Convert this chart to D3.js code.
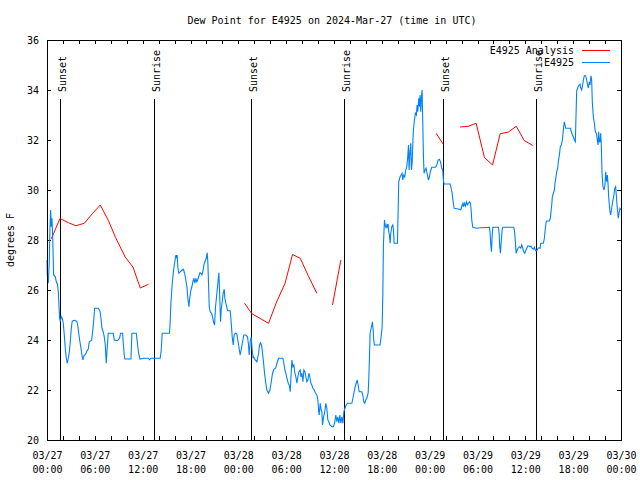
<!DOCTYPE html>
<html>
<head>
<meta charset="utf-8">
<script src="https://cdn.jsdelivr.net/npm/d3@7"></script>
<style>
  html, body { margin: 0; padding: 0; background: #ffffff; }
  svg { display: block; }
  text { font-family: "DejaVu Sans Mono", "Liberation Mono", monospace; font-size: 10px; fill: #000; }
</style>
</head>
<body>
<svg id="chart" width="640" height="480"></svg>
<script>
// ---------------- DATA ----------------
const chartTitle = "Dew Point for E4925 on 2024-Mar-27 (time in UTC)";
const yLabel = "degrees F";
const seriesNames = ["E4925 Analysis", "E4925"];
const startUTC = Date.UTC(2024, 2, 27, 0, 0);   // 03/27 00:00 UTC
const endUTC = Date.UTC(2024, 2, 30, 0, 0);     // 03/30 00:00 UTC
const yTicks = [20, 22, 24, 26, 28, 30, 32, 34, 36];

// Sun events (hours after start)
const sunsetHours = [1.63, 25.65, 49.72];
const sunriseHours = [13.41, 37.31, 61.38];

// Analysis series (hours after start, deg F); null = gap
const analysisHours = [0.54, 1.63, 2.7, 3.63, 4.68, 5.68, 6.68, 7.7, 8.6, 9.8, 10.78, 11.7, 12.74,
  null,
  24.78, 25.7, 27.79, 28.8, 29.86, 30.8, 31.76, 32.8, 33.85,
  null,
  35.81, 36.86,
  null,
  48.81, 49.72,
  null,
  51.82, 52.87, 53.83, 54.87, 55.89, 56.84, 57.88, 58.86, 59.86, 60.93];
const analysisValues = [28.05, 28.86, 28.69, 28.57, 28.67, 29.05, 29.4, 28.78, 28.1, 27.32, 26.92, 26.08, 26.23,
  null,
  25.47, 25.05, 24.67, 25.52, 26.27, 27.42, 27.27, 26.55, 25.87,
  null,
  25.4, 27.2,
  null,
  32.27, 31.82,
  null,
  32.52, 32.55, 32.67, 31.3, 31.0, 32.25, 32.32, 32.55, 31.98, 31.78];

// Station observations (hours after start, deg F)
const obsHours = [
  0.0, 0.04, 0.16, 0.29, 0.37, 0.46, 0.54, 0.62, 0.71, 0.83, 1.04, 1.17, 1.33, 1.42, 1.5, 1.58, 1.67, 1.79, 1.92,
  2.04, 2.17, 2.29, 2.42, 2.54, 2.67, 2.8, 2.92, 3.05, 3.17, 3.51, 3.76, 3.88, 4.01, 4.13, 4.26, 4.38, 4.51, 4.63,
  4.84, 5.01, 5.18, 5.3, 5.6, 5.72, 5.85, 5.97, 6.43, 6.64, 6.77, 6.89, 7.06, 7.18, 7.31, 7.43, 7.52, 7.68, 8.31,
  8.44, 8.85, 9.1, 9.23, 9.48, 9.57, 9.69, 9.77, 10.53, 10.65, 11.2, 11.32, 11.49, 11.66, 12.12, 12.7, 12.87, 13.04,
  14.2, 14.33, 14.45, 15.37, 15.46, 15.54, 15.71, 15.88, 16.0, 16.17, 16.25, 16.33, 16.42, 16.54, 16.71, 16.92,
  17.13, 17.25, 17.38, 17.55, 17.67, 17.8, 17.88, 18.05, 18.17, 18.3, 18.42, 18.55, 18.67, 18.8, 18.93, 19.05,
  19.18, 19.3, 19.43, 19.55, 19.68, 19.8, 19.97, 20.1, 20.18, 20.26, 20.35, 20.47, 20.64, 20.76, 20.89, 21.02,
  21.14, 21.31, 21.47, 21.56, 21.64, 21.77, 21.85, 21.98, 22.1, 22.23, 22.31, 22.44, 22.65, 22.98, 23.1, 23.23,
  23.36, 23.48, 23.61, 23.82, 23.9, 24.07, 24.23, 24.36, 24.53, 24.69, 24.94, 25.15, 25.28, 25.36, 25.49, 25.61,
  25.74, 25.86, 25.91, 26.12, 26.33, 26.54, 26.66, 26.79, 26.91, 27.04, 27.17, 27.29, 27.42, 27.58, 27.79, 27.96,
  28.13, 28.29, 28.46, 28.67, 28.84, 29.05, 29.59, 29.71, 29.84, 29.96, 30.09, 30.26, 30.38, 30.51, 30.63, 30.72,
  30.84, 30.97, 31.09, 31.22, 31.34, 31.47, 31.6, 31.76, 31.85, 31.97, 32.1, 32.22, 32.35, 32.47, 32.6, 32.72,
  32.85, 32.97, 33.1, 33.22, 33.35, 33.52, 33.68, 33.85, 33.98, 34.06, 34.14, 34.27, 34.39, 34.48, 34.56, 34.69,
  34.81, 34.98, 35.1, 35.23, 35.36, 35.48, 35.73, 35.94, 36.11, 36.23, 36.36, 36.48, 36.61, 36.73, 36.86, 36.99,
  37.11, 37.24, 37.36, 37.53, 37.7, 38.24, 38.37, 38.53, 38.66, 38.78, 38.91, 39.03, 39.16, 39.28, 39.49, 39.61,
  39.74, 39.86, 39.99, 40.11, 40.28, 40.36, 40.45, 40.53, 40.61, 40.74, 40.82, 40.91, 40.99, 41.07, 41.78, 41.91,
  42.04, 42.12, 42.2, 42.33, 42.41, 42.54, 42.62, 42.7, 42.79, 42.87, 42.95, 43.04, 43.12, 43.25, 43.37, 43.46,
  43.54, 43.96, 44.04, 44.12, 44.29, 44.42, 44.54, 44.63, 44.75, 44.88, 45.0, 45.13, 45.25, 45.34, 45.42, 45.5,
  45.63, 45.71, 45.8, 45.88, 45.96, 46.09, 46.21, 46.34, 46.42, 46.51, 46.63, 46.72, 46.8, 46.88, 46.97, 47.05,
  47.13, 47.22, 47.3, 47.43, 47.55, 47.63, 47.72, 47.84, 47.97, 48.09, 48.26, 48.72, 48.89, 49.06, 49.22, 49.35,
  49.52, 49.64, 49.72, 49.81, 50.57, 50.69, 50.82, 50.94, 51.07, 51.74, 51.9, 52.03, 52.16, 52.24, 52.36, 52.49,
  52.61, 52.74, 52.87, 52.99, 53.12, 53.2, 53.28, 53.41, 53.91, 54.33, 55.5, 55.58, 55.67, 55.75, 55.83, 55.92,
  56.63, 56.71, 56.79, 56.88, 56.96, 57.09, 57.17, 58.51, 58.59, 58.67, 58.76, 58.84, 58.97, 59.09, 59.26, 59.43,
  59.55, 59.68, 59.8, 59.93, 60.05, 60.18, 60.3, 60.47, 60.6, 60.72, 60.85, 61.01, 61.14, 61.27, 61.43, 61.6,
  61.72, 61.85, 61.93, 62.26, 62.39, 62.51, 62.64, 63.01, 63.14, 63.22, 63.31, 63.39, 63.52, 63.64, 63.72, 63.85,
  63.93, 64.06, 64.14, 64.27, 64.39, 64.52, 64.64, 64.73, 64.81, 64.89, 64.98, 65.06, 65.65, 65.77, 65.9, 66.02,
  66.15, 66.27, 66.36, 66.44, 66.57, 66.69, 66.86, 66.94, 67.07, 67.19, 67.28, 67.4, 67.57, 67.69, 67.82, 67.9,
  68.03, 68.11, 68.24, 68.32, 68.4, 68.53, 68.66, 68.78, 68.91, 69.03, 69.12, 69.2, 69.28, 69.37, 69.45, 69.53,
  69.62, 69.74, 69.87, 69.99, 70.08, 70.2, 70.29, 70.37, 70.45, 70.54, 70.62, 70.7, 70.83, 70.95, 71.08, 71.2,
  71.33, 71.41, 71.5, 71.58, 71.66, 71.75, 71.87, 72.0];
const obsValues = [
  27.2, 26.6, 26.27, 27.13, 28.47, 29.2, 28.53, 28.87, 28.2, 26.6, 26.53, 26.33, 26.2, 25.93, 25.4, 24.87, 24.73, 24.93, 24.87,
  24.67, 24.2, 23.67, 23.27, 23.07, 23.27, 23.53, 23.93, 24.47, 24.76, 24.79, 24.73, 24.53, 24.2, 23.93, 23.67, 23.4, 23.2, 23.37,
  23.43, 23.56, 23.64, 23.93, 23.99, 24.33, 24.73, 25.27, 25.27, 25.16, 24.87, 24.47, 24.31, 24.13, 23.8, 23.07, 23.53, 24.27, 24.27,
  24.0, 23.97, 24.07, 24.27, 24.27, 23.87, 23.4, 23.24, 23.24, 24.27, 24.27, 23.93, 23.47, 23.24, 23.27, 23.27, 23.21, 23.27,
  23.27, 23.6, 24.27, 24.27, 24.8, 25.47, 26.27, 26.8, 27.07, 27.4, 27.27, 27.4, 26.87, 26.67, 26.73, 26.8,
  26.83, 26.67, 26.47, 26.13, 25.67, 25.33, 25.6, 26.0, 26.13, 26.33, 26.47, 26.27, 26.47, 26.33, 26.43, 26.56,
  26.69, 26.67, 26.6, 26.73, 27.0, 27.13, 27.27, 27.49, 27.07, 26.27, 25.33, 25.13, 25.07, 24.93, 24.73, 24.6,
  25.33, 25.87, 26.4, 26.69, 26.0, 24.73, 25.2, 25.53, 25.87, 26.03, 25.67, 25.47, 25.17, 25.17, 24.73, 24.13,
  23.8, 24.2, 24.27, 24.24, 24.07, 23.73, 23.4, 23.6, 23.93, 24.2, 24.2, 24.13, 23.8, 23.4, 23.93, 24.13,
  23.6, 23.27, 23.33, 23.2, 23.13, 23.47, 23.8, 23.89, 23.8, 23.47, 23.07, 22.67, 22.33, 22.0, 21.87, 22.0,
  22.33, 22.67, 22.83, 22.87, 23.07, 23.27, 23.27, 23.07, 22.8, 22.67, 22.47, 22.27, 22.2, 21.93, 22.67, 23.2,
  22.93, 23.0, 22.67, 22.53, 22.27, 22.53, 22.73, 22.8, 22.53, 22.67, 22.33, 22.8, 22.73, 22.53, 22.33, 22.4,
  22.67, 22.53, 22.27, 22.2, 22.07, 22.0, 21.87, 21.8, 21.6, 21.2, 21.0, 21.47, 21.2, 21.13, 20.6, 20.93,
  21.07, 21.47, 21.27, 20.8, 20.73, 20.6, 20.53, 20.53, 20.73, 21.0, 20.73, 20.93, 20.67, 21.0, 20.67, 20.93,
  20.67, 21.13, 21.27, 21.4, 21.47, 21.47, 21.67, 21.93, 22.13, 22.27, 22.4, 22.2, 21.93, 21.93, 21.93, 21.8,
  21.53, 21.47, 21.6, 21.67, 21.87, 22.4, 23.33, 24.27, 24.4, 24.6, 24.73, 24.4, 24.0, 23.8, 23.8, 24.13,
  24.53, 25.73, 27.8, 28.8, 28.6, 28.47, 28.6, 28.53, 28.64, 28.33, 28.2, 27.87, 28.27, 28.53, 28.6, 28.4,
  27.87, 27.87, 29.07, 30.33, 30.53, 30.6, 30.67, 30.4, 30.6, 30.53, 30.8, 30.93, 31.33, 31.8, 30.8, 31.4,
  31.87, 30.8, 31.07, 31.8, 32.4, 32.8, 33.07, 33.0, 33.4, 33.13, 33.67, 33.33, 33.8, 33.13, 33.73, 34.0,
  32.8, 31.33, 30.67, 30.8, 30.87, 30.73, 30.6, 30.4, 30.53, 30.73, 30.91, 30.91, 31.0, 31.2, 31.23, 31.13,
  30.87, 30.8, 30.4, 30.24, 30.24, 30.07, 29.87, 29.53, 29.27, 29.23, 29.2, 29.36, 29.47, 29.33, 29.47, 29.36,
  29.53, 29.4, 29.47, 29.53, 29.47, 29.2, 28.8, 28.51, 28.47, 28.49, 28.51, 28.27, 27.8, 27.53, 28.13, 28.51,
  28.51, 28.27, 27.73, 27.47, 27.87, 28.4, 28.51, 28.51, 28.47, 28.27, 27.87, 27.47, 27.6, 27.67, 27.73, 27.67,
  27.8, 27.67, 27.53, 27.47, 27.57, 27.67, 27.76, 27.76, 27.73, 27.76, 27.67, 27.63, 27.71, 27.57, 27.57, 27.67,
  27.69, 27.67, 27.87, 27.87, 28.07, 28.47, 28.76, 28.76, 28.87, 29.13, 29.4, 29.73, 29.87, 30.0, 30.27, 30.53,
  30.73, 30.87, 31.13, 31.4, 31.73, 31.8, 32.0, 32.27, 32.53, 32.73, 32.6, 32.47, 32.47, 32.33, 32.2, 32.13,
  32.0, 31.93, 33.0, 33.96, 34.09, 34.17, 34.23, 34.09, 34.0, 34.2, 34.4, 34.57, 34.57, 34.4, 34.2, 34.07,
  34.33, 34.2, 34.57, 34.4, 33.53, 32.93, 32.67, 32.33, 32.27, 32.0, 31.8, 32.33, 31.93, 31.93, 32.27, 31.8,
  30.67, 30.13, 30.0, 30.2, 30.73, 30.33, 30.6, 30.27, 29.73, 29.4, 29.13, 29.0, 29.27, 29.53, 29.73, 30.04,
  30.13, 29.8, 29.4, 29.13, 28.87, 29.07, 29.27, 29.2];

const colors = { analysis: "#ff0000", obs: "#0080ff" };

// ---------------- CHART ----------------
const svg = d3.select("#chart");
const L = 47, R = 621, T = 40, B = 440;
const toDate = h => new Date(startUTC + h * 3600e3);

const x = d3.scaleUtc().domain([new Date(startUTC), new Date(endUTC)]).range([L, R]);
const y = d3.scaleLinear().domain([20, 36]).range([B, T]);

svg.append("rect").attr("width", 640).attr("height", 480).attr("fill", "#fff");

// Title
svg.append("text").attr("x", 332).attr("y", 24).attr("text-anchor", "middle").text(chartTitle);

// Y label
svg.append("text").attr("transform", "translate(14,240) rotate(-90)")
  .attr("text-anchor", "middle").text(yLabel);

// Axes ticks
const minorTicks = d3.range(0, 73, 2).map(toDate);
const majorTicks = d3.range(0, 73, 6).map(toDate);

function styleAxis(g) {
  g.select(".domain").remove();
  g.selectAll(".tick line").attr("stroke", "#000").attr("shape-rendering", "crispEdges");
}

svg.append("g").attr("transform", `translate(0,${B})`)
  .call(d3.axisBottom(x).tickValues(minorTicks).tickSize(-4).tickFormat(""))
  .call(styleAxis);
svg.append("g").attr("transform", `translate(0,${T})`)
  .call(d3.axisTop(x).tickValues(minorTicks).tickSize(-4).tickFormat(""))
  .call(styleAxis);

const xl = svg.append("g").attr("transform", `translate(0,${B})`)
  .call(d3.axisBottom(x).tickValues(majorTicks).tickSize(0).tickFormat(""));
xl.select(".domain").remove();
xl.selectAll(".tick").each(function(d) {
  const t = d3.select(this).append("text").attr("text-anchor", "middle")
    .style("font-family", '"DejaVu Sans Mono", monospace').style("font-size", "10px").attr("fill", "#000");
  t.append("tspan").attr("x", 0).attr("y", 19).text(d3.utcFormat("%m/%d")(d));
  t.append("tspan").attr("x", 0).attr("y", 33).text(d3.utcFormat("%H:%M")(d));
});

svg.append("g").attr("transform", `translate(${L},0)`)
  .call(d3.axisLeft(y).tickValues(yTicks).tickSize(-4).tickPadding(8).tickFormat(d3.format("d")))
  .call(styleAxis)
  .selectAll("text").style("font-family", '"DejaVu Sans Mono", monospace').style("font-size", "10px").attr("fill", "#000");
svg.append("g").attr("transform", `translate(${R},0)`)
  .call(d3.axisRight(y).tickValues(yTicks).tickSize(-4).tickFormat(""))
  .call(styleAxis);

// Sunset / sunrise lines
const sunEvents = sunsetHours.map(h => ({h, label: "Sunset"}))
  .concat(sunriseHours.map(h => ({h, label: "Sunrise"})));
sunEvents.forEach(e => {
  const xp = Math.round(x(toDate(e.h))) + 0.5;
  svg.append("line").attr("x1", xp).attr("x2", xp).attr("y1", 99).attr("y2", B)
    .attr("stroke", "#000").attr("stroke-width", 1).attr("shape-rendering", "crispEdges");
  svg.append("text").attr("transform", `translate(${xp + 5},92) rotate(-90)`)
    .attr("text-anchor", "start").text(e.label);
});

// Data lines
const obsData = obsHours.map((h, i) => ({t: toDate(h), v: obsValues[i]}));
const anaData = analysisHours.map((h, i) => ({t: h === null ? null : toDate(h), v: analysisValues[i]}));

const line = d3.line().defined(d => d.t !== null && d.v !== null)
  .x(d => x(d.t)).y(d => y(d.v));

svg.append("path").datum(anaData).attr("d", line)
  .attr("fill", "none").attr("stroke", colors.analysis).attr("stroke-width", 1);
svg.append("path").datum(obsData).attr("d", line)
  .attr("fill", "none").attr("stroke", colors.obs).attr("stroke-width", 1.1);

// Frame
svg.append("rect").attr("x", L + 0.5).attr("y", T + 0.5).attr("width", R - L).attr("height", B - T)
  .attr("fill", "none").attr("stroke", "#000").attr("shape-rendering", "crispEdges");

// Legend
const legend = [
  {name: seriesNames[0], color: colors.analysis, y: 50},
  {name: seriesNames[1], color: colors.obs, y: 62}
];
legend.forEach(l => {
  svg.append("text").attr("x", 574).attr("y", l.y + 4).attr("text-anchor", "end").text(l.name);
  svg.append("line").attr("x1", 582).attr("x2", 610).attr("y1", l.y + 0.5).attr("y2", l.y + 0.5)
    .attr("stroke", l.color).attr("stroke-width", 1).attr("shape-rendering", "crispEdges");
});
</script>
</body>
</html>
